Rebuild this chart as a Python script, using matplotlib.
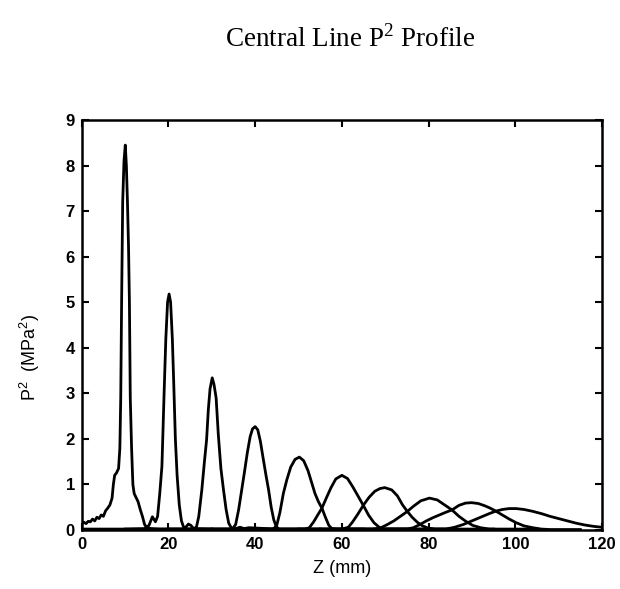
import matplotlib
matplotlib.use("Agg")
import matplotlib.pyplot as plt

plt.rcParams["mathtext.fontset"] = "custom"
plt.rcParams["mathtext.rm"] = "Liberation Serif"
plt.rcParams["mathtext.sf"] = "Liberation Sans"

# ---- data (Z in mm, P^2 in MPa^2) ----
z1 = [0, 0.5, 1.0, 1.5, 2.0, 2.5, 3.0, 3.5, 4.0, 4.5, 5.0, 5.5, 6.0, 6.5, 7.0, 7.3, 7.6, 8.0, 8.5, 8.8, 9.0, 9.2, 9.45, 9.75, 10.05, 10.3, 10.55, 10.8, 11.0, 11.2, 11.5, 11.8, 12.1, 12.5, 13.0, 13.5, 14.0, 14.5, 15.0, 16.0, 18.0, 22.0, 30.0]
p1 = [0.15, 0.17, 0.14, 0.19, 0.18, 0.24, 0.20, 0.28, 0.25, 0.33, 0.30, 0.42, 0.48, 0.55, 0.70, 1.00, 1.20, 1.25, 1.35, 1.80, 2.90, 5.00, 7.20, 8.10, 8.45, 8.00, 7.20, 6.20, 5.00, 2.90, 1.80, 1.00, 0.80, 0.72, 0.62, 0.45, 0.30, 0.12, 0.05, 0.03, 0.02, 0.02, 0.02]

z2 = [0, 10.0, 14.5, 15.5, 16.3, 17.0, 17.5, 18.0, 18.5, 19.0, 19.4, 19.8, 20.15, 20.5, 20.9, 21.2, 21.6, 22.0, 22.5, 23.0, 23.5, 24.0, 24.6, 25.2, 25.8, 30.0, 40.0]
p2 = [0.02, 0.02, 0.03, 0.10, 0.29, 0.18, 0.30, 0.80, 1.40, 3.00, 4.20, 5.00, 5.18, 5.00, 4.20, 3.30, 2.00, 1.20, 0.55, 0.20, 0.06, 0.06, 0.13, 0.10, 0.03, 0.02, 0.02]

z3 = [10.0, 25.0, 26.0, 26.5, 27.0, 27.7, 28.3, 28.8, 29.2, 29.6, 30.1, 30.5, 31.0, 31.5, 32.1, 32.7, 33.3, 33.9, 34.6, 35.5, 36.5, 37.5, 38.5, 45.0, 55.0]
p3 = [0.02, 0.02, 0.03, 0.08, 0.30, 0.88, 1.50, 1.98, 2.64, 3.10, 3.34, 3.20, 2.90, 2.10, 1.35, 0.88, 0.45, 0.15, 0.03, 0.03, 0.06, 0.03, 0.05, 0.02, 0.02]

z4 = [20.0, 34.0, 34.8, 35.5, 36.2, 36.9, 37.5, 38.2, 38.85, 39.4, 40.0, 40.6, 41.2, 41.8, 42.5, 43.1, 43.7, 44.3, 44.9, 45.5, 50.0, 65.0]
p4 = [0.02, 0.02, 0.03, 0.12, 0.45, 0.88, 1.25, 1.70, 2.05, 2.22, 2.27, 2.20, 1.95, 1.60, 1.20, 0.88, 0.50, 0.22, 0.07, 0.02, 0.02, 0.02]

z5 = [30.0, 44.0, 44.5, 45.0, 45.7, 46.5, 47.3, 48.2, 49.2, 50.2, 51.2, 52.2, 53.0, 53.8, 54.6, 55.4, 56.2, 57.0, 57.7, 59.0, 75.0]
p5 = [0.02, 0.02, 0.05, 0.11, 0.38, 0.80, 1.10, 1.38, 1.55, 1.60, 1.52, 1.30, 1.05, 0.80, 0.62, 0.48, 0.28, 0.10, 0.03, 0.02, 0.02]

z6 = [40.0, 51.5, 52.5, 53.5, 54.5, 55.4, 56.5, 57.5, 58.6, 60.0, 61.3, 62.5, 63.7, 65.0, 66.2, 67.4, 68.6, 69.6, 71.0, 85.0]
p6 = [0.02, 0.02, 0.05, 0.18, 0.34, 0.48, 0.72, 0.93, 1.12, 1.20, 1.13, 0.95, 0.75, 0.53, 0.32, 0.16, 0.06, 0.02, 0.02, 0.02]

z7 = [50.0, 60.0, 61.5, 62.5, 63.7, 65.0, 66.3, 67.6, 68.8, 69.9, 71.5, 72.8, 74.0, 75.0, 76.2, 77.4, 78.6, 80.0, 81.5, 95.0]
p7 = [0.02, 0.02, 0.06, 0.18, 0.35, 0.55, 0.72, 0.85, 0.91, 0.93, 0.88, 0.75, 0.55, 0.42, 0.28, 0.17, 0.09, 0.04, 0.02, 0.02]

z8 = [55.0, 67.0, 68.8, 70.5, 72.0, 73.5, 75.0, 76.5, 78.2, 80.2, 82.0, 83.7, 85.4, 87.0, 88.6, 90.2, 92.0, 94.0, 105.0]
p8 = [0.02, 0.02, 0.04, 0.12, 0.20, 0.30, 0.40, 0.52, 0.64, 0.70, 0.66, 0.55, 0.44, 0.30, 0.19, 0.10, 0.05, 0.02, 0.02]

z9 = [60.0, 75.0, 76.5, 78.0, 79.5, 81.0, 82.5, 84.0, 85.4, 87.0, 88.5, 89.9, 91.5, 93.0, 94.2, 95.4, 97.0, 98.6, 100.2, 102.0, 104.0, 106.0, 108.0, 115.0]
p9 = [0.02, 0.02, 0.05, 0.12, 0.20, 0.27, 0.33, 0.39, 0.44, 0.54, 0.59, 0.60, 0.58, 0.53, 0.48, 0.42, 0.33, 0.24, 0.16, 0.09, 0.05, 0.02, 0.01, 0.01]

z10 = [70.0, 84.0, 86.0, 88.0, 90.0, 92.0, 94.0, 95.4, 97.0, 98.6, 100.2, 102.0, 104.0, 106.0, 108.0, 110.0, 112.0, 114.0, 116.0, 118.0, 120.0]
p10 = [0.02, 0.02, 0.06, 0.12, 0.20, 0.28, 0.36, 0.41, 0.45, 0.47, 0.47, 0.45, 0.41, 0.36, 0.30, 0.25, 0.20, 0.15, 0.11, 0.08, 0.06]

profiles = [(z1, p1), (z2, p2), (z3, p3), (z4, p4), (z5, p5),
            (z6, p6), (z7, p7), (z8, p8), (z9, p9), (z10, p10)]

x_ticks = [0, 20, 40, 60, 80, 100, 120]
y_ticks = [0, 1, 2, 3, 4, 5, 6, 7, 8, 9]

# ---- figure ----
fig = plt.figure(figsize=(6.2, 5.89), dpi=100)
ax = fig.add_axes([0.1318, 0.1002, 0.8392, 0.6960])

for z, p in profiles:
    ax.plot(z, p, color="black", linewidth=2.0, solid_joinstyle="round")

ax.set_xlim(0, 120)
ax.set_ylim(0, 9)
ax.set_xticks(x_ticks)
ax.set_yticks(y_ticks)
ax.tick_params(direction="in", length=5, width=1.5, top=True, right=True,
               labelsize=12, pad=5)
for lab in ax.get_xticklabels() + ax.get_yticklabels():
    lab.set_fontfamily("Liberation Sans")
    lab.set_fontweight("bold")
for s in ax.spines.values():
    s.set_linewidth(1.8)

ax.set_xlabel("Z (mm)", fontsize=13, family="Liberation Sans", labelpad=6)
ax.set_ylabel(r"P$^{\mathsf{2}}$  (MPa$^{\mathsf{2}}$)", fontsize=13, family="Liberation Sans")
ax.yaxis.set_label_coords(-0.077, 0.42)

fig.text(0.565, 0.935, r"Central Line P$^{\mathrm{2}}$ Profile", ha="center", va="center",
         fontsize=19.5, family="Liberation Serif")

fig.savefig("out.png", dpi=100)
